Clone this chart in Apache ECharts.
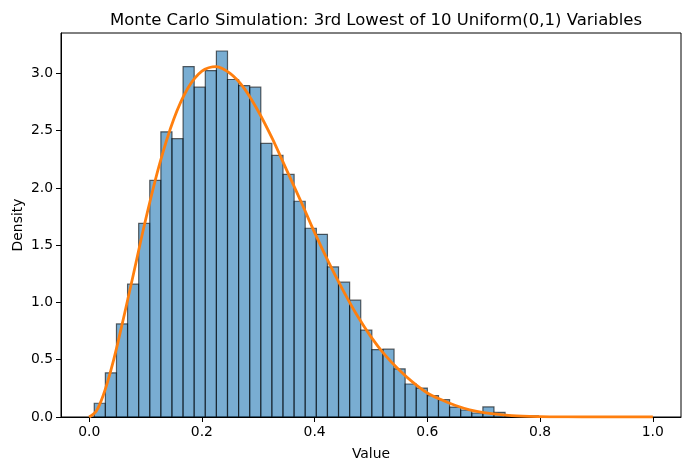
<!DOCTYPE html>
<html>
<head>
	<meta charset="utf-8">
	<title>3rd Lowest of 10 Uniform(0,1)</title>
	<script src="https://cdn.jsdelivr.net/npm/echarts@6/dist/echarts.min.js"></script>
	<style>
		html, body { margin: 0; padding: 0; background: #fff; }
	</style>
</head>
<body>
	<div id="chart" style="width: 691px;height:470px;"></div>
	<script type="text/javascript">
		// histogram bins (density)
		var binStart = 0.009;
		var binWidth = 0.0197;
		var binHeights = [
			0.12, 0.386, 0.813, 1.16, 1.69, 2.066, 2.49, 2.43, 3.06, 2.88,
			3.025, 3.196, 2.947, 2.894, 2.88, 2.389, 2.284, 2.118, 1.884, 1.648,
			1.595, 1.31, 1.177, 1.02, 0.758, 0.589, 0.592, 0.421, 0.288, 0.253,
			0.186, 0.151, 0.087, 0.061, 0.035, 0.088, 0.04, 0.01, 0.005, 0.01
		];

		// orange density curve
		var curveX = [0, 0.0125, 0.025, 0.0375, 0.05, 0.075, 0.1, 0.125, 0.15, 0.175, 0.2,
			0.225, 0.25, 0.275, 0.3, 0.325, 0.35, 0.375, 0.4, 0.425, 0.45, 0.475, 0.5,
			0.525, 0.55, 0.575, 0.6, 0.625, 0.65, 0.675, 0.7, 0.75, 0.8, 0.85, 0.9, 0.95, 1.0];
		var curveY = [0, 0.05, 0.19, 0.39, 0.63, 1.17, 1.72, 2.21, 2.6, 2.87, 3.02,
			3.06, 3.0, 2.87, 2.67, 2.43, 2.16, 1.89, 1.61, 1.35, 1.11, 0.89, 0.70,
			0.54, 0.41, 0.30, 0.21, 0.15, 0.10, 0.063, 0.039, 0.012, 0.003, 0.0005, 0, 0, 0];

		var xTicks = [0, 0.2, 0.4, 0.6, 0.8, 1.0];
		var yTicks = [0, 0.5, 1.0, 1.5, 2.0, 2.5, 3.0];

		var bins = [];
		for (var i = 0; i < binHeights.length; i++) {
			var left = binStart + i * binWidth;
			bins.push([left, left + binWidth, binHeights[i]]);
		}
		var curve = [];
		for (var j = 0; j < curveX.length; j++) {
			curve.push([curveX[j], curveY[j]]);
		}

		var font = 'DejaVu Sans';
		var myChart = echarts.init(document.getElementById('chart'));
		var option = {
			animation: false,
			backgroundColor: '#fff',
			textStyle: { fontFamily: font },
			title: {
				text: 'Monte Carlo Simulation: 3rd Lowest of 10 Uniform(0,1) Variables',
				left: 371,
				top: 7,
				textAlign: 'center',
				textStyle: { fontFamily: font, fontSize: 16.5, fontWeight: 'normal', color: '#000' }
			},
			grid: {
				left: 61, right: 10, top: 33, bottom: 53,
				outerBoundsMode: 'none',
				containLabel: false,
				show: true, borderColor: '#000', borderWidth: 1, backgroundColor: 'transparent'
			},
			xAxis: {
				type: 'value',
				min: -0.05,
				max: 1.05,
				name: 'Value',
				nameLocation: 'middle',
				nameGap: 30,
				nameMoveOverlap: false,
				nameTextStyle: { fontFamily: font, fontSize: 13.9, color: '#000' },
				axisLine: { show: true, onZero: false, lineStyle: { color: '#000', width: 1 } },
				axisTick: { show: true, inside: false, length: 5, customValues: xTicks, lineStyle: { color: '#000' } },
				axisLabel: {
					customValues: xTicks, margin: 8, fontFamily: font, fontSize: 13.9, color: '#000',
					formatter: function (v) { return v.toFixed(1); }
				},
				splitLine: { show: false }
			},
			yAxis: {
				type: 'value',
				min: 0,
				max: 3.353,
				name: 'Density',
				nameLocation: 'middle',
				nameGap: 36,
				nameRotate: 90,
				nameMoveOverlap: false,
				nameTextStyle: { fontFamily: font, fontSize: 13.9, color: '#000' },
				axisLine: { show: true, onZero: false, lineStyle: { color: '#000', width: 1 } },
				axisTick: { show: true, inside: false, length: 5, customValues: yTicks, lineStyle: { color: '#000' } },
				axisLabel: {
					customValues: yTicks, margin: 8, fontFamily: font, fontSize: 13.9, color: '#000',
					formatter: function (v) { return v.toFixed(1); }
				},
				splitLine: { show: false }
			},
			series: [
				{
					type: 'custom',
					data: bins,
					encode: { x: [0, 1], y: 2 },
					renderItem: function (params, api) {
						var p0 = api.coord([api.value(0), api.value(2)]);
						var p1 = api.coord([api.value(1), 0]);
						return {
							type: 'rect',
							shape: { x: p0[0], y: p0[1], width: p1[0] - p0[0], height: p1[1] - p0[1] },
							style: { fill: 'rgba(31,119,180,0.6)', stroke: 'rgba(0,0,0,0.6)', lineWidth: 1.2 }
						};
					},
					z: 2
				},
				{
					type: 'line',
					data: curve,
					smooth: 0.3,
					symbol: 'none',
					lineStyle: { color: '#ff7f0e', width: 2.8 },
					z: 3
				}
			]
		};
		myChart.setOption(option);
	</script>
</body>
</html>
